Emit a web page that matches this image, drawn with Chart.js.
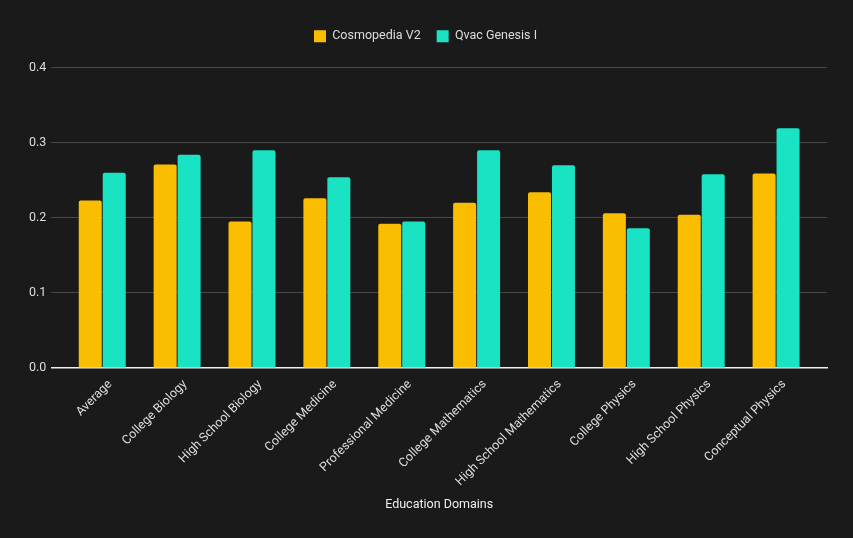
<!DOCTYPE html>
<html>
<head>
<meta charset="utf-8">
<script src="https://cdn.jsdelivr.net/npm/chart.js@4"></script>
<style>
  html, body { margin: 0; padding: 0; background: #1a1a1a; }
  #wrap { width: 853px; height: 538px; }
</style>
</head>
<body>
<div id="wrap"><canvas id="chart"></canvas></div>
<script>
const domains = [
  "Average", "College Biology", "High School Biology", "College Medicine",
  "Professional Medicine", "College Mathematics", "High School Mathematics",
  "College Physics", "High School Physics", "Conceptual Physics"
];
const cosmopedia = [0.223, 0.271, 0.195, 0.226, 0.192, 0.220, 0.234, 0.206, 0.204, 0.259];
const qvac = [0.260, 0.284, 0.290, 0.254, 0.195, 0.290, 0.270, 0.186, 0.258, 0.319];
const yTicks = [0, 0.1, 0.2, 0.3, 0.4];

Chart.defaults.font.family = "Roboto, 'Noto Sans', sans-serif";
Chart.defaults.font.size = 12.5;
Chart.defaults.color = "#dddddd";

// x as a linear scale so the groups sit a bit inside the grid, like the original
const toPoints = (arr) => arr.map((v, i) => ({ x: i, y: v }));

// extra room between legend and plot
const legendGap = {
  id: "legendGap",
  beforeInit(chart) {
    const fit = chart.legend.fit;
    chart.legend.fit = function () {
      fit.bind(chart.legend)();
      this.height += 15;
    };
  },
};

new Chart(document.getElementById("chart"), {
  type: "bar",
  data: {
    datasets: [
      {
        label: "Cosmopedia V2",
        data: toPoints(cosmopedia),
        backgroundColor: "#fabd00",
        borderRadius: 2,
        borderSkipped: "bottom",
      },
      {
        label: "Qvac Genesis I",
        data: toPoints(qvac),
        backgroundColor: "#19e3c3",
        borderRadius: 2,
        borderSkipped: "bottom",
      },
    ],
  },
  options: {
    responsive: true,
    maintainAspectRatio: false,
    animation: false,
    layout: { padding: { top: 14, right: 26, bottom: 22, left: 24 } },
    datasets: { bar: { categoryPercentage: 0.64, barPercentage: 0.96 } },
    plugins: {
      legend: {
        position: "top",
        labels: { boxWidth: 12, boxHeight: 12, padding: 16, color: "#dddddd" },
      },
      tooltip: { enabled: false },
    },
    scales: {
      x: {
        type: "linear",
        offset: false,
        min: -0.68,
        max: 9.68,
        afterBuildTicks: (axis) => {
          axis.ticks = domains.map((d, i) => ({ value: i }));
        },
        ticks: {
          autoSkip: false,
          minRotation: 45,
          maxRotation: 45,
          padding: 1,
          labelOffset: 8,
          color: "#dddddd",
          callback: (v) => domains[v],
        },
        grid: { display: false },
        border: { display: true, color: "#eeeeee", width: 1.5 },
        title: {
          display: true,
          text: "Education Domains",
          color: "#eeeeee",
          padding: { top: 7 },
        },
      },
      y: {
        min: 0,
        max: 0.4,
        afterBuildTicks: (axis) => {
          axis.ticks = yTicks.map((v) => ({ value: v }));
        },
        ticks: {
          padding: 5,
          color: "#dddddd",
          callback: (v) => v.toFixed(1),
        },
        grid: { color: "#474747", drawTicks: false },
        border: { display: false },
      },
    },
  },
  plugins: [legendGap],
});
</script>
</body>
</html>
